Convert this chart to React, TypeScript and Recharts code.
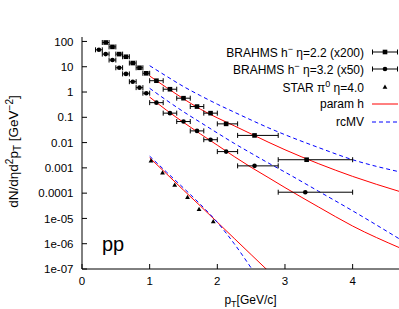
import React from "react";
import { ComposedChart, XAxis, YAxis, Scatter, Line, ErrorBar, Legend, Label } from "recharts";

const FONT = '"Liberation Sans", Arial, Helvetica, sans-serif';

// BRAHMS h- eta=2.2 (x200)
const brahms22X = [0.35, 0.45, 0.55, 0.65, 0.75, 0.85, 0.95, 1.1, 1.3, 1.5, 1.7, 1.9, 2.13, 2.55, 3.32];
const brahms22Y = [91, 61, 31.6, 24.8, 14, 9.1, 5.5, 2.8, 1.29, 0.57, 0.266, 0.146, 0.055, 0.0192, 0.0021];
// BRAHMS h- eta=3.2 (x50)
const brahms32X = [0.25, 0.35, 0.45, 0.55, 0.65, 0.75, 0.85, 0.95, 1.1, 1.3, 1.5, 1.7, 1.9, 2.13, 2.55, 3.3];
const brahms32Y = [46.7, 31.6, 18.4, 9.1, 5.2, 2.56, 1.49, 0.9, 0.38, 0.146, 0.068, 0.029, 0.013, 0.0044, 0.0012, 0.000109];
// pT bin edges (x errors), shared by both BRAHMS sets
const binLow = [0.2, 0.3, 0.4, 0.5, 0.6, 0.7, 0.8, 0.9, 1.0, 1.2, 1.4, 1.6, 1.8, 2.0, 2.3, 2.9];
const binHigh = [0.3, 0.4, 0.5, 0.6, 0.7, 0.8, 0.9, 1.0, 1.2, 1.4, 1.6, 1.8, 2.0, 2.3, 2.9, 4.0];

// STAR pi0 eta=4.0
const starX = [1.02, 1.19, 1.37, 1.56, 1.73, 1.94];
const starY = [0.0019, 0.00064, 0.000207, 6.8e-5, 2.3e-5, 7.5e-6];

// model curves
const curveX = [1.0, 1.25, 1.5, 1.75, 2.0, 2.25, 2.5, 2.75, 3.0, 3.5, 4.0, 4.7];
const paramH22 = [4.3, 1.5, 0.54, 0.21, 0.095, 0.046, 0.022, 0.0105, 0.0052, 0.00145, 0.00046, 0.000115];
const rcMV22 = [11, 4.2, 1.65, 0.72, 0.33, 0.16, 0.078, 0.039, 0.0205, 0.0063, 0.0021, 0.00069];
const paramH32 = [0.63, 0.19, 0.063, 0.022, 0.0079, 0.0028, 0.00105, 0.00042, 0.000166, 2.8e-5, 5e-6, 6.8e-7];
const rcMV32 = [1.4, 0.47, 0.166, 0.063, 0.024, 0.0093, 0.0038, 0.00158, 0.00068, 0.000117, 2e-5, 1.5e-6];
const starCurveX = [1.0, 1.25, 1.5, 1.75, 2.0, 2.25, 2.5, 2.75];
const paramHStar = [0.0025, 0.00058, 0.000132, 3.1e-5, 7.1e-6, 1.62e-6, 3.7e-7, 8.5e-8];
const rcMVStar = [0.0029, 0.00068, 0.00016, 3.6e-5, 7.0e-6, 1.0e-6, 1.1e-7];

const xTicks = [0, 1, 2, 3, 4];
const yTicks = [1e-7, 1e-6, 1e-5, 1e-4, 1e-3, 1e-2, 0.1, 1, 10, 100];
const yTickLabels = ["1e-07", "1e-06", "1e-05", "0.0001", "0.001", "0.01", "0.1", "1", "10", "100"];

const legendLabels = ["BRAHMS h", "BRAHMS h", "STAR \u03c0", "param h", "rcMV"];

const toPoints = (xs: number[], ys: number[]) => xs.map((x, i) => ({ x, y: ys[i] }));
const toBinned = (xs: number[], ys: number[]) =>
    xs.map((x, i) => {
        const k = binLow.length - xs.length + i;
        return { x, y: ys[i], err: [x - binLow[k], binHigh[k] - x] };
    });

const RED = "#ff0000";
const BLUE = "#0000ff";
const DASH = "4 3";

const Square = (p: any) => <rect x={p.cx - 2.3} y={p.cy - 2.3} width={4.6} height={4.6} fill="#000" />;
const Dot = (p: any) => <circle cx={p.cx} cy={p.cy} r={2.3} fill="#000" />;
const Tri = (p: any) => (
    <path d={`M${p.cx},${p.cy - 2.6}L${p.cx + 2.4},${p.cy + 1.7}L${p.cx - 2.4},${p.cy + 1.7}Z`} fill="#000" />
);

function Sample({ kind }: { kind: number }) {
    return (
        <svg width={34} height={10} style={{ display: "block", marginLeft: 0 }}>
            {kind < 2 && (
                <g stroke="#000" strokeWidth={1}>
                    <line x1={8} y1={5} x2={34} y2={5} />
                    <line x1={8.5} y1={2.5} x2={8.5} y2={7.5} />
                    <line x1={33.5} y1={2.5} x2={33.5} y2={7.5} />
                </g>
            )}
            {kind === 0 && <rect x={18.7} y={2.7} width={4.6} height={4.6} fill="#000" />}
            {kind === 1 && <circle cx={21} cy={5} r={2.3} fill="#000" />}
            {kind === 2 && <path d="M21,2.4L23.4,6.7L18.6,6.7Z" fill="#000" />}
            {kind === 3 && <line x1={8} y1={5} x2={34} y2={5} stroke={RED} />}
            {kind === 4 && <line x1={8} y1={5} x2={34} y2={5} stroke={BLUE} strokeDasharray={DASH} />}
        </svg>
    );
}

function LegendBox() {
    const sup = { fontSize: 9, verticalAlign: "5px" } as React.CSSProperties;
    const texts = [
        <span>{legendLabels[0]}<span style={sup}>{"\u2212"}</span> {"\u03b7"}=2.2 (x200)</span>,
        <span>{legendLabels[1]}<span style={sup}>{"\u2212"}</span> {"\u03b7"}=3.2 (x50)</span>,
        <span>{legendLabels[2]}<span style={sup}>0</span> {"\u03b7"}=4.0</span>,
        <span>{legendLabels[3]}</span>,
        <span>{legendLabels[4]}</span>,
    ];
    return (
        <div style={{ fontFamily: FONT, fontSize: 12, color: "#000", width: 218 }}>
            {texts.map((t, i) => (
                <div key={i} style={{ display: "flex", justifyContent: "flex-end", alignItems: "center", height: 17.5, whiteSpace: "nowrap" }}>
                    {t}
                    <Sample kind={i} />
                </div>
            ))}
        </div>
    );
}

export default function App() {
    const fmtY = (v: number) => {
        const i = yTicks.findIndex((t) => Math.abs(t - v) / t < 1e-6);
        return i >= 0 ? yTickLabels[i] : "";
    };
    const tickStyle = { fill: "#000", fontSize: 11.5, fontFamily: FONT };

    return (
        <div style={{ position: "absolute", left: 0, top: 0, width: 399, height: 309, overflow: "hidden", background: "#fff" }}>
            <ComposedChart width={401} height={309} margin={{ top: 37, right: 1, bottom: 10, left: 0 }}>
                <XAxis
                    dataKey="x"
                    type="number"
                    domain={[0, 4.7]}
                    allowDataOverflow
                    ticks={xTicks}
                    height={30}
                    tickSize={-5}
                    tickMargin={13}
                    tick={tickStyle}
                    axisLine={{ stroke: "#000" }}
                    tickLine={{ stroke: "#000" }}
                >
                    <Label
                        content={() => (
                            <text x={250.5} y={304} textAnchor="middle" fontFamily={FONT} fontSize={12} fill="#000">
                                p<tspan dy={3} fontSize={9}>T</tspan>
                                <tspan dy={-3}>[GeV/c]</tspan>
                            </text>
                        )}
                    />
                </XAxis>
                <XAxis
                    xAxisId="top"
                    orientation="top"
                    dataKey="x"
                    type="number"
                    domain={[0, 4.7]}
                    allowDataOverflow
                    ticks={xTicks}
                    height={0}
                    tickSize={-5}
                    tickFormatter={() => ""}
                    axisLine={{ stroke: "#000" }}
                    tickLine={{ stroke: "#000" }}
                />
                <YAxis
                    dataKey="y"
                    scale="log"
                    domain={[1e-7, 150]}
                    allowDataOverflow
                    ticks={yTicks}
                    tickFormatter={fmtY}
                    width={82}
                    tickSize={-5}
                    tickMargin={13.5}
                    tick={tickStyle}
                    axisLine={{ stroke: "#000" }}
                    tickLine={{ stroke: "#000" }}
                >
                    <Label
                        content={() => (
                            <text
                                x={18}
                                y={151.5}
                                transform="rotate(-90 18 151.5)"
                                textAnchor="middle"
                                fontFamily={FONT}
                                fontSize={13.5}
                                fill="#000"
                            >
                                dN/d{"\u03b7"}d<tspan dy={-5} fontSize={10}>2</tspan>
                                <tspan dy={5}>p</tspan>
                                <tspan dy={3} fontSize={10}>T</tspan>
                                <tspan dy={-3}>{"\u00a0[GeV"}</tspan>
                                <tspan dy={-5} fontSize={10}>{"\u22122"}</tspan>
                                <tspan dy={5}>]</tspan>
                            </text>
                        )}
                    />
                    <Label
                        content={() => (
                            <text x={102} y={251} fontFamily={FONT} fontSize={20} fill="#000">
                                pp
                            </text>
                        )}
                    />
                </YAxis>
                <Legend
                    layout="vertical"
                    align="center"
                    verticalAlign="middle"
                    content={() => <LegendBox />}
                    wrapperStyle={{ top: 43, left: 180, width: 218, bottom: "auto", right: "auto" }}
                />

                <Line data={toPoints(curveX, paramH22)} dataKey="y" type="monotone" stroke={RED} strokeWidth={1} dot={false} isAnimationActive={false} />
                <Line data={toPoints(curveX, rcMV22)} dataKey="y" type="monotone" stroke={BLUE} strokeWidth={1} strokeDasharray={DASH} dot={false} isAnimationActive={false} />
                <Line data={toPoints(curveX, paramH32)} dataKey="y" type="monotone" stroke={RED} strokeWidth={1} dot={false} isAnimationActive={false} />
                <Line data={toPoints(curveX, rcMV32)} dataKey="y" type="monotone" stroke={BLUE} strokeWidth={1} strokeDasharray={DASH} dot={false} isAnimationActive={false} />
                <Line data={toPoints(starCurveX, paramHStar)} dataKey="y" type="monotone" stroke={RED} strokeWidth={1} dot={false} isAnimationActive={false} />
                <Line data={toPoints(starCurveX.slice(0, rcMVStar.length), rcMVStar)} dataKey="y" type="monotone" stroke={BLUE} strokeWidth={1} strokeDasharray={DASH} dot={false} isAnimationActive={false} />

                <Scatter data={toBinned(brahms22X, brahms22Y)} dataKey="y" shape={Square} isAnimationActive={false}>
                    <ErrorBar dataKey="err" direction="x" width={2.5} stroke="#000" strokeWidth={1} />
                </Scatter>
                <Scatter data={toBinned(brahms32X, brahms32Y)} dataKey="y" shape={Dot} isAnimationActive={false}>
                    <ErrorBar dataKey="err" direction="x" width={2.5} stroke="#000" strokeWidth={1} />
                </Scatter>
                <Scatter data={toPoints(starX, starY)} dataKey="y" shape={Tri} isAnimationActive={false} />
            </ComposedChart>
        </div>
    );
}
